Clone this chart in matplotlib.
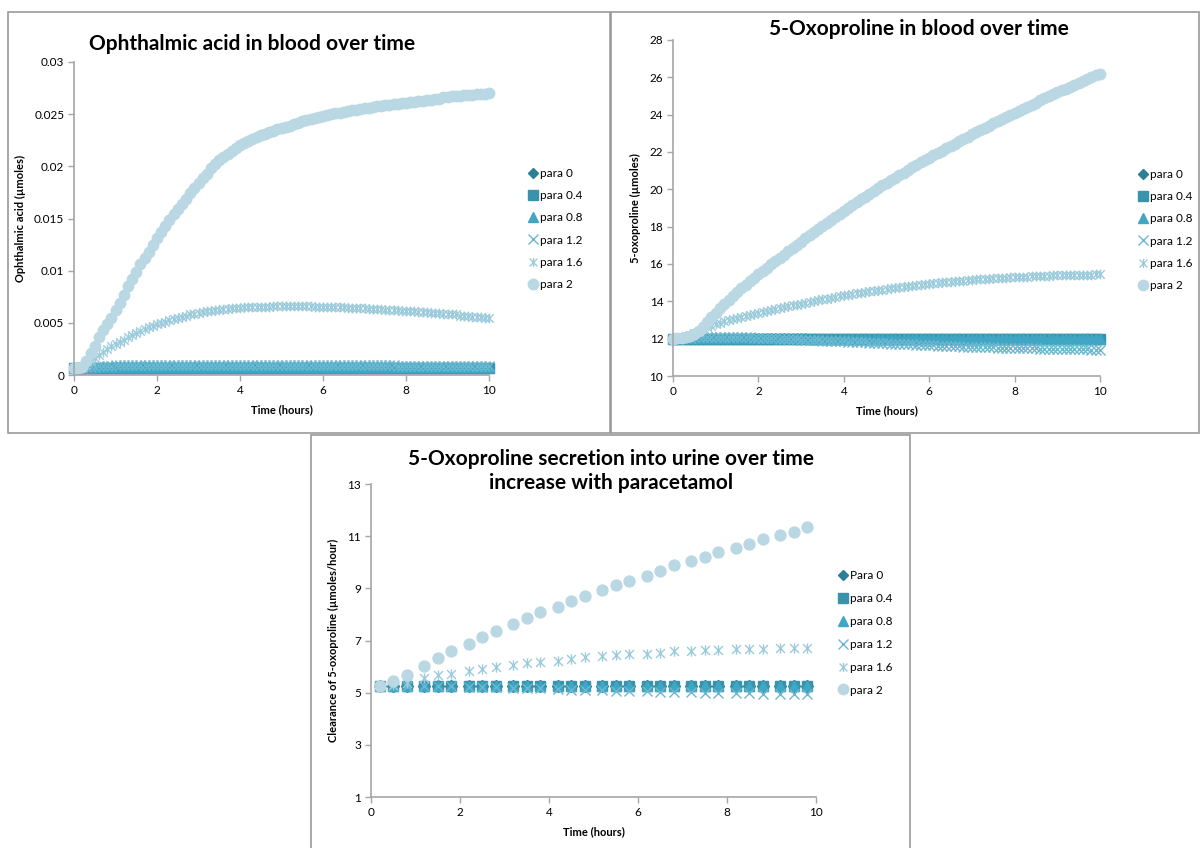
import numpy as np
import matplotlib
matplotlib.use("Agg")
import matplotlib.pyplot as plt
from matplotlib.path import Path
from matplotlib.patches import Rectangle

plt.rcParams['font.family'] = ['Lato', 'DejaVu Sans']

# ---------------- data ----------------
series_names = ["para 0", "para 0.4", "para 0.8", "para 1.2", "para 1.6", "para 2"]
urine_names = ["Para 0", "para 0.4", "para 0.8", "para 1.2", "para 1.6", "para 2"]

# blood simulations, sampled every 0.1 h from 0 to 10 h
t_blood = np.linspace(0, 10, 101)

# ophthalmic acid in blood (umoles), rows of 1 h
oa_para0 = [
    0.0007, 0.0007, 0.0007, 0.0007, 0.0007, 0.0007, 0.0007, 0.0007, 0.0007, 0.0007,
    0.0007, 0.0007, 0.0007, 0.0007, 0.0007, 0.0007, 0.0007, 0.0007, 0.0007, 0.0007,
    0.0007, 0.0007, 0.0007, 0.0007, 0.0007, 0.0007, 0.0007, 0.0007, 0.0007, 0.0007,
    0.0007, 0.0007, 0.0007, 0.0007, 0.0007, 0.0007, 0.0007, 0.0007, 0.0007, 0.0007,
    0.0007, 0.0007, 0.0007, 0.0007, 0.0007, 0.0007, 0.0007, 0.0007, 0.0007, 0.0007,
    0.0007, 0.0007, 0.0007, 0.0007, 0.0007, 0.0007, 0.0007, 0.0007, 0.0007, 0.0007,
    0.0007, 0.0007, 0.0007, 0.0007, 0.0007, 0.0007, 0.0007, 0.0007, 0.0007, 0.0007,
    0.0007, 0.0007, 0.0007, 0.0007, 0.0007, 0.0007, 0.0007, 0.0007, 0.0007, 0.0007,
    0.0007, 0.0007, 0.0007, 0.0007, 0.0007, 0.0007, 0.0007, 0.0007, 0.0007, 0.0007,
    0.0007, 0.0007, 0.0007, 0.0007, 0.0007, 0.0007, 0.0007, 0.0007, 0.0007, 0.0007,
    0.0007]
oa_para04 = [
    0.0007, 0.0007, 0.0007, 0.0007, 0.0007, 0.0007, 0.0007, 0.0007, 0.0007, 0.0007,
    0.0007, 0.0007, 0.0007, 0.0007, 0.0007, 0.0007, 0.0007, 0.0007, 0.0007, 0.0007,
    0.0007, 0.0007, 0.0007, 0.0007, 0.0007, 0.0007, 0.0007, 0.0007, 0.0007, 0.0007,
    0.0007, 0.0007, 0.0007, 0.0007, 0.0007, 0.0007, 0.0007, 0.0007, 0.0007, 0.0007,
    0.0007, 0.0007, 0.0007, 0.0007, 0.0007, 0.0007, 0.0007, 0.0007, 0.0007, 0.0007,
    0.0007, 0.0007, 0.0007, 0.0007, 0.0007, 0.0007, 0.0007, 0.0007, 0.0007, 0.0007,
    0.0007, 0.0007, 0.0007, 0.0007, 0.0007, 0.0007, 0.0007, 0.0007, 0.0007, 0.0007,
    0.0007, 0.0007, 0.0007, 0.0007, 0.0007, 0.0007, 0.0007, 0.0007, 0.0007, 0.0007,
    0.0007, 0.0007, 0.0007, 0.0007, 0.0007, 0.0007, 0.0007, 0.0007, 0.0007, 0.0007,
    0.0007, 0.0007, 0.0007, 0.0007, 0.0007, 0.0007, 0.0007, 0.0007, 0.0007, 0.0007,
    0.0007]
oa_para08 = [
    0.0007, 0.0007, 0.0007, 0.0007, 0.0007, 0.0008, 0.0008, 0.0008, 0.0008, 0.0008,
    0.0008, 0.0008, 0.0008, 0.0008, 0.0008, 0.0008, 0.0008, 0.0008, 0.0008, 0.0008,
    0.0008, 0.0008, 0.0008, 0.0008, 0.0008, 0.0008, 0.0008, 0.0008, 0.0008, 0.0008,
    0.0008, 0.0008, 0.0008, 0.0008, 0.0008, 0.0008, 0.0008, 0.0008, 0.0008, 0.0008,
    0.0008, 0.0008, 0.0008, 0.0008, 0.0008, 0.0008, 0.0008, 0.0008, 0.0008, 0.0008,
    0.0008, 0.0008, 0.0008, 0.0008, 0.0008, 0.0008, 0.0008, 0.0008, 0.0008, 0.0008,
    0.0008, 0.0008, 0.0008, 0.0008, 0.0008, 0.0008, 0.0008, 0.0008, 0.0008, 0.0008,
    0.0008, 0.0008, 0.0008, 0.0008, 0.0008, 0.0008, 0.0008, 0.0008, 0.0008, 0.0008,
    0.0008, 0.0008, 0.0008, 0.0008, 0.0008, 0.0008, 0.0008, 0.0008, 0.0008, 0.0008,
    0.0008, 0.0008, 0.0008, 0.0008, 0.0008, 0.0008, 0.0008, 0.0008, 0.0008, 0.0008,
    0.0008]
oa_para12 = [
    0.0007, 0.0007, 0.0007, 0.0008, 0.0008, 0.0008, 0.0009, 0.0009, 0.0009, 0.0009,
    0.0010, 0.0010, 0.0010, 0.0010, 0.0010, 0.0010, 0.0010, 0.0010, 0.0010, 0.0010,
    0.0010, 0.0010, 0.0010, 0.0010, 0.0010, 0.0010, 0.0010, 0.0010, 0.0010, 0.0010,
    0.0010, 0.0010, 0.0010, 0.0010, 0.0010, 0.0010, 0.0010, 0.0010, 0.0010, 0.0010,
    0.0010, 0.0010, 0.0010, 0.0010, 0.0010, 0.0010, 0.0010, 0.0010, 0.0010, 0.0010,
    0.0010, 0.0010, 0.0010, 0.0010, 0.0010, 0.0010, 0.0010, 0.0010, 0.0010, 0.0010,
    0.0010, 0.0010, 0.0010, 0.0010, 0.0010, 0.0010, 0.0010, 0.0010, 0.0010, 0.0010,
    0.0010, 0.0010, 0.0010, 0.0010, 0.0010, 0.0010, 0.0010, 0.0010, 0.0009, 0.0009,
    0.0009, 0.0009, 0.0009, 0.0009, 0.0009, 0.0009, 0.0009, 0.0009, 0.0009, 0.0009,
    0.0009, 0.0009, 0.0009, 0.0009, 0.0009, 0.0009, 0.0009, 0.0009, 0.0009, 0.0009,
    0.0009]
oa_para16 = [
    0.0007, 0.0007, 0.0008, 0.0010, 0.0013, 0.0016, 0.0019, 0.0022, 0.0025, 0.0028,
    0.0030, 0.0032, 0.0034, 0.0036, 0.0038, 0.0040, 0.0042, 0.0044, 0.0046, 0.0047,
    0.0049, 0.0050, 0.0051, 0.0053, 0.0054, 0.0055, 0.0056, 0.0057, 0.0058, 0.0058,
    0.0059, 0.0060, 0.0061, 0.0061, 0.0062, 0.0062, 0.0063, 0.0063, 0.0064, 0.0064,
    0.0064, 0.0065, 0.0065, 0.0065, 0.0065, 0.0065, 0.0065, 0.0065, 0.0066, 0.0066,
    0.0066, 0.0066, 0.0066, 0.0066, 0.0066, 0.0066, 0.0066, 0.0066, 0.0065, 0.0065,
    0.0065, 0.0065, 0.0065, 0.0065, 0.0065, 0.0065, 0.0064, 0.0064, 0.0064, 0.0064,
    0.0064, 0.0063, 0.0063, 0.0063, 0.0063, 0.0062, 0.0062, 0.0062, 0.0062, 0.0061,
    0.0061, 0.0061, 0.0061, 0.0060, 0.0060, 0.0060, 0.0059, 0.0059, 0.0059, 0.0058,
    0.0058, 0.0058, 0.0058, 0.0057, 0.0057, 0.0057, 0.0056, 0.0056, 0.0056, 0.0055,
    0.0055]
oa_para2 = [
    0.0007, 0.0007, 0.0008, 0.0013, 0.0021, 0.0028, 0.0036, 0.0043, 0.0049, 0.0055,
    0.0062, 0.0069, 0.0077, 0.0085, 0.0092, 0.0099, 0.0106, 0.0112, 0.0118, 0.0125,
    0.0131, 0.0137, 0.0143, 0.0149, 0.0154, 0.0159, 0.0164, 0.0169, 0.0174, 0.0179,
    0.0184, 0.0189, 0.0193, 0.0198, 0.0202, 0.0206, 0.0209, 0.0212, 0.0215, 0.0218,
    0.0220, 0.0222, 0.0224, 0.0226, 0.0228, 0.0230, 0.0231, 0.0233, 0.0234, 0.0236,
    0.0237, 0.0238, 0.0239, 0.0241, 0.0242, 0.0243, 0.0244, 0.0245, 0.0246, 0.0247,
    0.0248, 0.0249, 0.0250, 0.0251, 0.0251, 0.0252, 0.0253, 0.0254, 0.0254, 0.0255,
    0.0256, 0.0256, 0.0257, 0.0258, 0.0258, 0.0259, 0.0259, 0.0260, 0.0260, 0.0261,
    0.0261, 0.0262, 0.0262, 0.0263, 0.0263, 0.0264, 0.0264, 0.0265, 0.0265, 0.0266,
    0.0266, 0.0267, 0.0267, 0.0267, 0.0268, 0.0268, 0.0268, 0.0269, 0.0269, 0.0269,
    0.0270]

# 5-oxoproline in blood (umoles), rows of 1 h
ox_para0 = [
    12.0, 12.0, 12.0, 12.0, 12.0, 12.0, 12.0, 12.0, 12.0, 12.0,
    12.0, 12.0, 12.0, 12.0, 12.0, 12.0, 12.0, 12.0, 12.0, 12.0,
    12.0, 12.0, 12.0, 12.0, 12.0, 12.0, 12.0, 12.0, 12.0, 12.0,
    12.0, 12.0, 12.0, 12.0, 12.0, 12.0, 12.0, 12.0, 12.0, 12.0,
    12.0, 12.0, 12.0, 12.0, 12.0, 12.0, 12.0, 12.0, 12.0, 12.0,
    12.0, 12.0, 12.0, 12.0, 12.0, 12.0, 12.0, 12.0, 12.0, 12.0,
    12.0, 12.0, 12.0, 12.0, 12.0, 12.0, 12.0, 12.0, 12.0, 12.0,
    12.0, 12.0, 12.0, 12.0, 12.0, 12.0, 12.0, 12.0, 12.0, 12.0,
    12.0, 12.0, 12.0, 12.0, 12.0, 12.0, 12.0, 12.0, 12.0, 12.0,
    12.0, 12.0, 12.0, 12.0, 12.0, 12.0, 12.0, 12.0, 12.0, 12.0,
    12.0]
ox_para04 = [
    12.0, 12.0, 12.0, 12.0, 12.0, 12.0, 12.0, 12.0, 12.0, 12.0,
    12.0, 12.0, 12.0, 12.0, 12.0, 12.0, 12.0, 12.0, 12.0, 12.0,
    12.0, 12.0, 12.0, 12.0, 12.0, 12.0, 12.0, 12.0, 12.0, 12.0,
    12.0, 12.0, 12.0, 12.0, 12.0, 12.0, 12.0, 12.0, 12.0, 12.0,
    12.0, 12.0, 12.0, 12.0, 12.0, 12.0, 12.0, 12.0, 12.0, 12.0,
    12.0, 12.0, 12.0, 12.0, 12.0, 12.0, 12.0, 12.0, 12.0, 12.0,
    12.0, 12.0, 12.0, 12.0, 12.0, 12.0, 12.0, 12.0, 12.0, 12.0,
    12.0, 12.0, 12.0, 12.0, 12.0, 12.0, 12.0, 12.0, 12.0, 12.0,
    12.0, 12.0, 12.0, 12.0, 12.0, 12.0, 12.0, 12.0, 12.0, 12.0,
    12.0, 12.0, 12.0, 12.0, 12.0, 12.0, 12.0, 12.0, 12.0, 12.0,
    12.0]
ox_para08 = [
    12.00, 12.01, 12.02, 12.03, 12.04, 12.05, 12.05, 12.06, 12.06, 12.06,
    12.06, 12.06, 12.05, 12.05, 12.05, 12.04, 12.04, 12.04, 12.03, 12.03,
    12.03, 12.03, 12.02, 12.02, 12.02, 12.02, 12.01, 12.01, 12.01, 12.01,
    12.01, 12.01, 12.00, 12.00, 12.00, 12.00, 12.00, 12.00, 12.00, 12.00,
    12.00, 12.00, 12.00, 12.00, 12.00, 12.00, 12.00, 12.00, 12.00, 12.00,
    12.00, 12.00, 12.00, 12.00, 12.00, 12.00, 12.00, 12.00, 12.00, 12.00,
    12.00, 12.00, 12.00, 12.00, 12.00, 12.00, 12.00, 12.00, 12.00, 12.00,
    12.00, 12.00, 12.00, 12.00, 12.00, 12.00, 12.00, 12.00, 12.00, 12.00,
    12.00, 12.00, 12.00, 12.00, 12.00, 12.00, 12.00, 12.00, 12.00, 12.00,
    12.00, 12.00, 12.00, 12.00, 12.00, 12.00, 12.00, 12.00, 12.00, 12.00,
    12.00]
ox_para12 = [
    12.00, 12.02, 12.03, 12.05, 12.06, 12.07, 12.08, 12.09, 12.10, 12.10,
    12.10, 12.10, 12.10, 12.10, 12.09, 12.09, 12.08, 12.08, 12.07, 12.06,
    12.05, 12.04, 12.03, 12.02, 12.01, 12.00, 11.99, 11.98, 11.97, 11.96,
    11.95, 11.94, 11.93, 11.92, 11.91, 11.90, 11.89, 11.88, 11.87, 11.86,
    11.85, 11.84, 11.83, 11.82, 11.81, 11.80, 11.79, 11.78, 11.77, 11.76,
    11.75, 11.74, 11.73, 11.72, 11.71, 11.70, 11.69, 11.68, 11.67, 11.66,
    11.65, 11.64, 11.63, 11.62, 11.61, 11.61, 11.60, 11.59, 11.58, 11.57,
    11.56, 11.56, 11.55, 11.54, 11.53, 11.53, 11.52, 11.52, 11.51, 11.51,
    11.50, 11.50, 11.49, 11.49, 11.48, 11.48, 11.47, 11.47, 11.46, 11.46,
    11.45, 11.45, 11.44, 11.44, 11.43, 11.43, 11.42, 11.42, 11.41, 11.41,
    11.40]
ox_para16 = [
    12.00, 12.02, 12.05, 12.12, 12.20, 12.30, 12.40, 12.50, 12.60, 12.69,
    12.78, 12.85, 12.92, 12.99, 13.05, 13.11, 13.17, 13.23, 13.28, 13.33,
    13.38, 13.43, 13.48, 13.53, 13.58, 13.63, 13.68, 13.73, 13.78, 13.83,
    13.88, 13.93, 13.97, 14.02, 14.06, 14.11, 14.15, 14.20, 14.24, 14.28,
    14.32, 14.36, 14.39, 14.43, 14.46, 14.50, 14.53, 14.57, 14.60, 14.63,
    14.66, 14.69, 14.72, 14.75, 14.78, 14.81, 14.84, 14.87, 14.89, 14.92,
    14.94, 14.97, 14.99, 15.01, 15.03, 15.05, 15.07, 15.09, 15.11, 15.13,
    15.15, 15.17, 15.18, 15.20, 15.21, 15.23, 15.24, 15.26, 15.27, 15.29,
    15.30, 15.31, 15.32, 15.33, 15.34, 15.35, 15.36, 15.37, 15.38, 15.39,
    15.39, 15.40, 15.40, 15.41, 15.41, 15.42, 15.42, 15.43, 15.43, 15.44,
    15.44]
ox_para2 = [
    12.00, 12.01, 12.03, 12.08, 12.15, 12.26, 12.40, 12.63, 12.90, 13.15,
    13.40, 13.63, 13.85, 14.08, 14.30, 14.50, 14.70, 14.89, 15.08, 15.27,
    15.45, 15.63, 15.80, 15.98, 16.15, 16.33, 16.50, 16.68, 16.85, 17.03,
    17.20, 17.37, 17.54, 17.71, 17.87, 18.04, 18.20, 18.37, 18.53, 18.69,
    18.85, 19.01, 19.16, 19.31, 19.46, 19.61, 19.76, 19.91, 20.06, 20.21,
    20.35, 20.49, 20.63, 20.77, 20.90, 21.04, 21.17, 21.31, 21.44, 21.57,
    21.70, 21.83, 21.95, 22.08, 22.20, 22.33, 22.45, 22.58, 22.70, 22.83,
    22.95, 23.07, 23.18, 23.30, 23.41, 23.53, 23.64, 23.76, 23.87, 23.99,
    24.10, 24.21, 24.32, 24.43, 24.54, 24.65, 24.76, 24.87, 24.98, 25.09,
    25.20, 25.30, 25.40, 25.50, 25.60, 25.70, 25.80, 25.90, 26.00, 26.10,
    26.20]

# urine clearance (umoles/hour)
t_urine = [0.2, 0.5, 0.8, 1.2, 1.5, 1.8, 2.2, 2.5, 2.8, 3.2, 3.5, 3.8, 4.2, 4.5, 4.8,
           5.2, 5.5, 5.8, 6.2, 6.5, 6.8, 7.2, 7.5, 7.8, 8.2, 8.5, 8.8, 9.2, 9.5, 9.8]
ur_para0 = [5.25, 5.25, 5.25, 5.25, 5.25, 5.25, 5.25, 5.25, 5.25, 5.25, 5.25, 5.25, 5.25, 5.25, 5.25,
            5.25, 5.25, 5.25, 5.25, 5.25, 5.25, 5.25, 5.25, 5.25, 5.25, 5.25, 5.25, 5.25, 5.25, 5.25]
ur_para04 = [5.25, 5.25, 5.25, 5.25, 5.25, 5.25, 5.25, 5.25, 5.25, 5.25, 5.25, 5.25, 5.25, 5.25, 5.25,
             5.25, 5.25, 5.25, 5.25, 5.25, 5.25, 5.25, 5.25, 5.25, 5.25, 5.25, 5.25, 5.25, 5.25, 5.25]
ur_para08 = [5.25, 5.26, 5.27, 5.27, 5.27, 5.27, 5.26, 5.26, 5.26, 5.25, 5.25, 5.25, 5.25, 5.25, 5.25,
             5.25, 5.25, 5.25, 5.25, 5.25, 5.25, 5.25, 5.25, 5.25, 5.25, 5.25, 5.25, 5.25, 5.25, 5.25]
ur_para12 = [5.25, 5.26, 5.27, 5.26, 5.25, 5.24, 5.23, 5.22, 5.21, 5.19, 5.18, 5.16, 5.14, 5.12, 5.11,
             5.09, 5.08, 5.06, 5.05, 5.04, 5.02, 5.01, 5.00, 4.99, 4.98, 4.97, 4.96, 4.95, 4.95, 4.94]
ur_para16 = [5.25, 5.30, 5.38, 5.57, 5.66, 5.73, 5.82, 5.91, 5.99, 6.06, 6.13, 6.17, 6.22, 6.30, 6.35,
             6.40, 6.43, 6.48, 6.50, 6.53, 6.58, 6.60, 6.63, 6.64, 6.67, 6.68, 6.69, 6.70, 6.72, 6.72]
ur_para2 = [5.25, 5.43, 5.68, 6.04, 6.33, 6.58, 6.88, 7.15, 7.38, 7.62, 7.88, 8.08, 8.30, 8.52, 8.70,
            8.94, 9.12, 9.30, 9.49, 9.67, 9.88, 10.04, 10.19, 10.41, 10.55, 10.69, 10.89, 11.03, 11.16, 11.34]

# ---------------- styles ----------------
colors = ["#2d7f98", "#3a93ad", "#41a6c3", "#6cb8d0", "#9ccbdb", "#bad8e3"]
star = Path([(-1, -1), (1, 1), (-1, 1), (1, -1), (0, -1.15), (0, 1.15)],
            [Path.MOVETO, Path.LINETO, Path.MOVETO, Path.LINETO, Path.MOVETO, Path.LINETO])
markers = ["D", "s", "^", "x", star, "o"]
base_sizes = [5.5, 6.5, 6.5, 7, 7, 7.5]
legend_sizes = [5, 6.5, 6.5, 6.5, 6.5, 7.5]

W, H = 1200, 848
fig = plt.figure(figsize=(12, 8.48), dpi=100)


def pbox(l, t, r, b):
    return [l / W, 1 - b / H, (r - l) / W, (b - t) / H]


def frame(l, t, r, b):
    fig.add_artist(Rectangle((l / W, 1 - b / H), (r - l) / W, (b - t) / H,
                             transform=fig.transFigure, fill=False,
                             edgecolor="#9a9a9a", linewidth=1.2))


def draw_panel(ax, x, ys, names, scale, legend_xy, spacing):
    for y, name, c, m, s in zip(ys, names, colors, markers, base_sizes):
        fc = "none" if m == "x" or isinstance(m, Path) else c
        ax.plot(x, y, linestyle="none", marker=m, markersize=s * scale,
                color=c, markerfacecolor=fc, markeredgecolor=c,
                markeredgewidth=1.0, clip_on=False, label=name)
    for side in ("top", "right"):
        ax.spines[side].set_visible(False)
    for side in ("left", "bottom"):
        ax.spines[side].set_color("#a6a6a6")
        ax.spines[side].set_linewidth(1.2)
    ax.tick_params(direction="out", length=4, width=1, color="#a6a6a6",
                   labelsize=8.5, pad=3)
    ax.set_xlim(0, 10)
    ax.set_xticks([0, 2, 4, 6, 8, 10])
    ax.set_xlabel("Time (hours)", fontsize=8, fontweight="bold", labelpad=6)
    leg = ax.legend(loc="center left", bbox_to_anchor=legend_xy,
                    bbox_transform=fig.transFigure, frameon=False,
                    fontsize=8.5, handletextpad=0.1, labelspacing=spacing,
                    handlelength=1.0, borderaxespad=0)
    for h, ms in zip(leg.legend_handles, legend_sizes):
        h.set_markersize(ms)
    return ax


# panel 1
frame(8, 12, 610, 433)
ax1 = fig.add_axes(pbox(74, 62, 489, 375))
draw_panel(ax1, t_blood, [oa_para0, oa_para04, oa_para08, oa_para12, oa_para16, oa_para2],
           series_names, 1.0, (522 / W, 1 - 229 / H), 0.95)
ax1.set_ylim(0, 0.03)
ax1.set_yticks([0, 0.005, 0.01, 0.015, 0.02, 0.025, 0.03])
ax1.set_yticklabels(["0", "0.005", "0.01", "0.015", "0.02", "0.025", "0.03"])
ax1.set_ylabel("Ophthalmic acid (\u00b5moles)", fontsize=8, fontweight="bold", labelpad=6)
fig.text(252 / W, 1 - 44 / H, "Ophthalmic acid in blood over time",
         ha="center", va="center", fontsize=15, fontweight="bold")

# panel 2
frame(611, 12, 1199, 433)
ax2 = fig.add_axes(pbox(673, 40, 1100, 376))
draw_panel(ax2, t_blood, [ox_para0, ox_para04, ox_para08, ox_para12, ox_para16, ox_para2],
           series_names, 1.0, (1132 / W, 1 - 230 / H), 0.95)
ax2.set_ylim(10, 28)
ax2.set_yticks(range(10, 29, 2))
ax2.set_ylabel("5-oxoproline (\u00b5moles)", fontsize=8, fontweight="bold", labelpad=6)
fig.text(919 / W, 1 - 29 / H, "5-Oxoproline in blood over time",
         ha="center", va="center", fontsize=15, fontweight="bold")

# panel 3
frame(311, 435, 910, 860)
ax3 = fig.add_axes(pbox(371, 484, 816, 797))
draw_panel(ax3, t_urine, [ur_para0, ur_para04, ur_para08, ur_para12, ur_para16, ur_para2],
           urine_names, 1.05, (832 / W, 1 - 633 / H), 1.0)
ax3.set_ylim(1, 13)
ax3.set_yticks(range(1, 14, 2))
ax3.set_ylabel("Clearance of 5-oxoproline (\u00b5moles/hour)", fontsize=8,
               fontweight="bold", labelpad=6)
fig.text(611 / W, 1 - 471 / H,
         "5-Oxoproline secretion into urine over time\nincrease with paracetamol",
         ha="center", va="center", fontsize=15, fontweight="bold", linespacing=1.25)

fig.savefig("out.png", dpi=100)
